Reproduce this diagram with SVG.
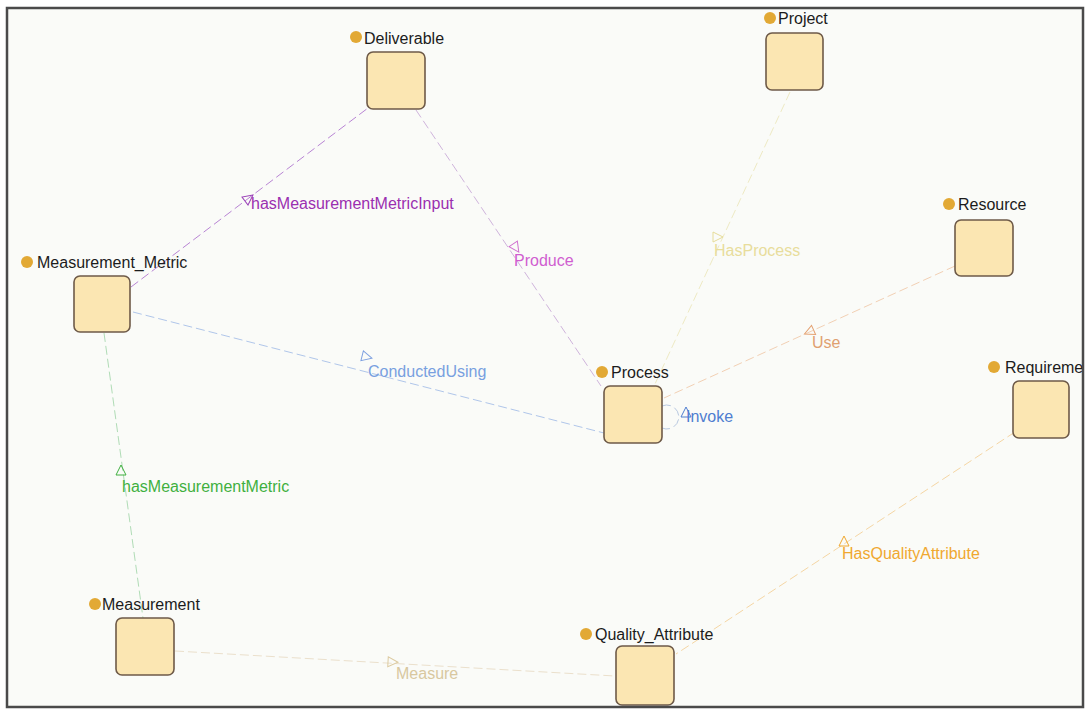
<svg xmlns="http://www.w3.org/2000/svg" width="1091" height="715" viewBox="0 0 1091 715">
  <style>
    .node rect { fill: #fbe6b2; stroke: #6e5a48; stroke-width: 1.6; }
    .node circle { fill: #e2a935; }
    .node text { font-family: "Liberation Sans", Arial, sans-serif; font-size: 16px; fill: #1c1c1c; }
    .edge { fill: none; stroke-width: 1; stroke-dasharray: 9 4; }
    .head { fill: none; stroke-width: 1; }
    .elabel { font-family: "Liberation Sans", Arial, sans-serif; font-size: 16px; }
  </style>
  <defs>
    <!-- open triangle, pointing along +x -->
    <path id="tri" d="M5,0 L-5,-5 L-5,5 Z"/>
    <clipPath id="frameClip">
      <rect x="7" y="8" width="1076" height="699"/>
    </clipPath>
  </defs>

  <rect x="0" y="0" width="1091" height="715" fill="#ffffff"/>
  <rect x="7" y="8" width="1076" height="699" fill="#fafbf8"/>

  <g clip-path="url(#frameClip)">
    <!-- connectors -->
    <g id="connectors">
      <g id="e-hasMeasurementMetricInput">
        <line class="edge" x1="131" y1="287" x2="372" y2="105" stroke="#b884d4"/>
        <use href="#tri" class="head" stroke="#9a40b8" transform="translate(249,198) rotate(-37)"/>
        <text class="elabel" x="251" y="209" fill="#9b2fb0">hasMeasurementMetricInput</text>
      </g>
      <g id="e-Produce">
        <line class="edge" x1="416" y1="110" x2="601" y2="386" stroke="#cfb4dc"/>
        <use href="#tri" class="head" stroke="#d070d0" transform="translate(516,248) rotate(56)"/>
        <text class="elabel" x="514" y="266" fill="#d05ed0">Produce</text>
      </g>
      <g id="e-HasProcess">
        <line class="edge" x1="790" y1="92" x2="655" y2="384" stroke="#eeeac4"/>
        <use href="#tri" class="head" stroke="#e6dc98" transform="translate(718,237) rotate(0)"/>
        <text class="elabel" x="714" y="256" fill="#e8dd9c">HasProcess</text>
      </g>
      <g id="e-Use">
        <line class="edge" x1="955" y1="266" x2="664" y2="398" stroke="#f2d0b4"/>
        <use href="#tri" class="head" stroke="#e4a070" transform="translate(809,332) rotate(156)"/>
        <text class="elabel" x="812" y="348" fill="#e0a070">Use</text>
      </g>
      <g id="e-ConductedUsing">
        <line class="edge" x1="133" y1="312" x2="604" y2="433" stroke="#b0c6ea"/>
        <use href="#tri" class="head" stroke="#7ea0e0" transform="translate(367,357) rotate(14)"/>
        <text class="elabel" x="368" y="377" fill="#78a0e0">ConductedUsing</text>
      </g>
      <g id="e-Invoke">
        <path class="edge" d="M662,406 A12,12 0 1 1 662,428" stroke="#b8c8e0" stroke-dasharray="none"/>
        <use href="#tri" class="head" stroke="#4f7ed0" transform="translate(686,412) rotate(-90)"/>
        <text class="elabel" x="686" y="422" fill="#4f7ed0">Invoke</text>
      </g>
      <g id="e-hasMeasurementMetric">
        <line class="edge" x1="104" y1="333" x2="143" y2="618" stroke="#b0dcb6"/>
        <use href="#tri" class="head" stroke="#40b040" transform="translate(121,470) rotate(-90)"/>
        <text class="elabel" x="122" y="492" fill="#3fb03f">hasMeasurementMetric</text>
      </g>
      <g id="e-Measure">
        <line class="edge" x1="175" y1="651" x2="615" y2="676" stroke="#ebe0cc"/>
        <use href="#tri" class="head" stroke="#dccaa0" transform="translate(393,662) rotate(3)"/>
        <text class="elabel" x="396" y="679" fill="#d8c8a0">Measure</text>
      </g>
      <g id="e-HasQualityAttribute">
        <line class="edge" x1="1015" y1="432" x2="676" y2="654" stroke="#f5d6a4"/>
        <use href="#tri" class="head" stroke="#f0a830" transform="translate(844,541) rotate(-90)"/>
        <text class="elabel" x="842" y="559" fill="#f0a830">HasQualityAttribute</text>
      </g>
    </g>

    <!-- nodes -->
    <g id="Deliverable" class="node">
      <rect x="367" y="52" width="58" height="57" rx="6"/>
      <circle cx="356" cy="37" r="6"/>
      <text x="364" y="44">Deliverable</text>
    </g>
    <g id="Project" class="node">
      <rect x="766" y="33" width="57" height="57" rx="6"/>
      <circle cx="770" cy="18" r="6"/>
      <text x="778" y="24">Project</text>
    </g>
    <g id="Measurement_Metric" class="node">
      <rect x="74" y="276" width="56" height="56" rx="6"/>
      <circle cx="27" cy="262" r="6"/>
      <text x="37" y="268">Measurement_Metric</text>
    </g>
    <g id="Resource" class="node">
      <rect x="955" y="220" width="58" height="56" rx="6"/>
      <circle cx="949" cy="204" r="6"/>
      <text x="958" y="210">Resource</text>
    </g>
    <g id="Process" class="node">
      <rect x="604" y="386" width="58" height="57" rx="6"/>
      <circle cx="602" cy="372" r="6"/>
      <text x="611" y="378">Process</text>
    </g>
    <g id="Requirement" class="node">
      <rect x="1013" y="381" width="56" height="57" rx="6"/>
      <circle cx="994" cy="367" r="6"/>
      <text x="1005" y="373">Requirement</text>
    </g>
    <g id="Measurement" class="node">
      <rect x="116" y="618" width="58" height="57" rx="6"/>
      <circle cx="95" cy="604" r="6"/>
      <text x="102" y="610">Measurement</text>
    </g>
    <g id="Quality_Attribute" class="node">
      <rect x="616" y="646" width="58" height="59" rx="6"/>
      <circle cx="586" cy="634" r="6"/>
      <text x="595" y="640">Quality_Attribute</text>
    </g>
  </g>

  <!-- frame -->
  <rect x="7" y="8" width="1076" height="699" fill="none" stroke="#4a4a4a" stroke-width="2.5"/>
</svg>
